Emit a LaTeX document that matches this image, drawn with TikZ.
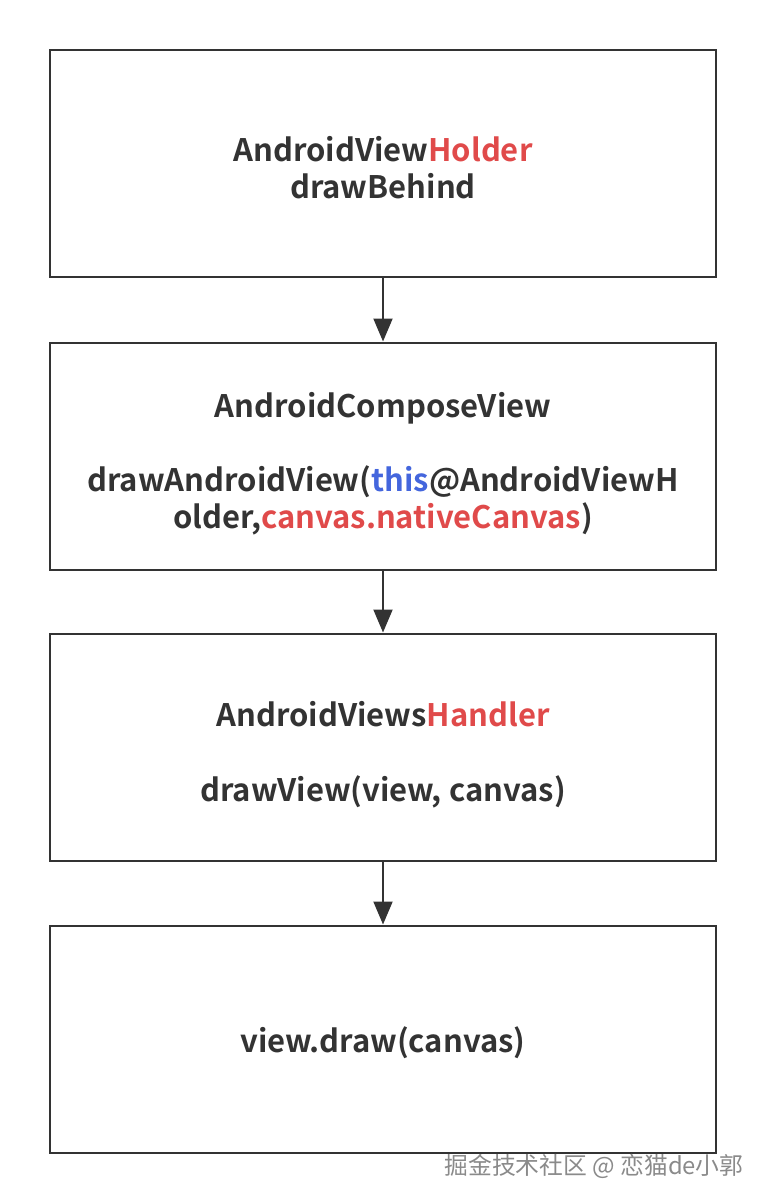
\documentclass[tikz,border=0pt]{standalone}
\usepackage{fontspec}
\setmainfont{Noto Sans CJK SC}[BoldFont={* Bold}]
\newfontfamily\cjk{Noto Sans CJK SC}
\usetikzlibrary{arrows.meta}
\definecolor{ink}{HTML}{333333}
\definecolor{hlred}{HTML}{E04A4A}
\definecolor{hlblue}{HTML}{4466DD}
\definecolor{wm}{HTML}{8A8A8A}
\tikzset{
  stepbox/.style={draw=ink, line width=2pt, rectangle, minimum width=666pt, minimum height=227pt, inner sep=0pt},
  steptext/.style={inner sep=0pt, align=center, text=ink, font=\bfseries\fontsize{31}{37}\selectfont},
  flow/.style={draw=ink, line width=2pt, -{Triangle[width=19pt,length=23pt]}}
}
\begin{document}
\begin{tikzpicture}[x=1pt,y=-1pt]
\useasboundingbox (0,0) rectangle (766,1204);
\node[stepbox] (b1) at (383,163.5) {};
\node[stepbox] (b2) at (383,456) {};
\node[stepbox] (b3) at (383,747) {};
\node[stepbox] (b4) at (383,1039) {};
\node[steptext] (t1) at (383,167.5) {AndroidView\textcolor{hlred}{Holder}\\drawBehind};
\node[steptext] (t2) at (383,463.5) {AndroidComposeView\\[37pt]drawAndroidView(\textcolor{hlblue}{this}@AndroidViewH\\older,\textcolor{hlred}{canvas.nativeCanvas})};
\node[steptext] (t3) at (383,754.5) {AndroidViews\textcolor{hlred}{Handler}\\[38pt]drawView(view, canvas)};
\node[steptext] (t4) at (383,1043) {view.draw(canvas)};
\draw[flow] (b1) -- (b2);
\draw[flow] (b2) -- (b3);
\draw[flow] (b3) -- (b4);
\node[text=wm, font=\cjk\fontsize{23.8}{28}\selectfont, anchor=center] (wmk) at (594,1166) {掘金技术社区 @ 恋猫de小郭};
\end{tikzpicture}
\end{document}
